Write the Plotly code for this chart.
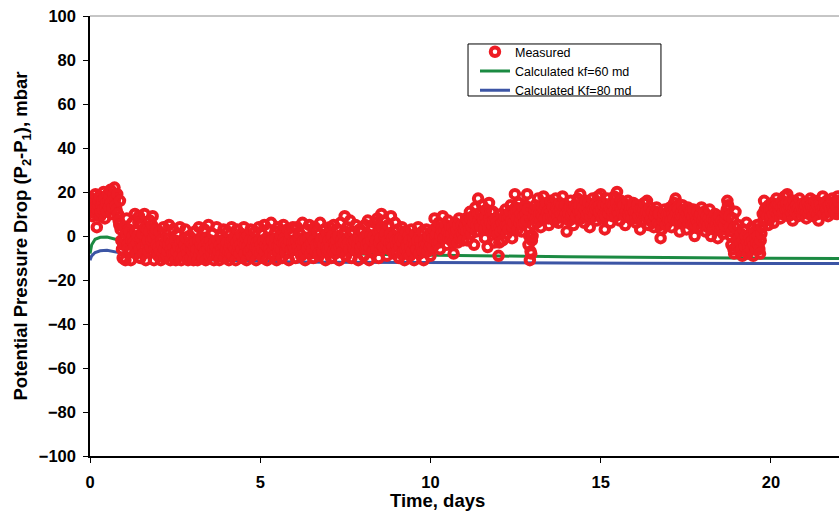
import plotly.graph_objects as go

# Measured potential pressure drop, mbar, one reading every SAMPLE_STEP days
SAMPLE_STEP = 0.02
measured = [
    # day 0
    12, 14, 17, 11, 9, 16, 15, 13, 19, 10, 4, 12, 14, 16, 18, 9, 11, 14, 16, 12, 20, 17, 8, 13, 15,
    11, 19, 16, 13, 18, 21, 15, 10, 13, 17, 19, 22, 17, 14, 12, 19, 10, 7, 5, 16, 3, -2, -6, -10, -4,
    # day 1
    4, -1, -11, 1, 8, -4, -6, 3, 2, -7, -11, -2, 6, 0, -3, -5, 10, 2, -8, -3, 0, 6, 9, -6, -10,
    -1, 5, 1, -5, -8, 10, 4, -11, -4, 3, -2, -7, 2, 7, -5, -2, 5, 9, -1, -11, -6, 1, 3, -4, -8,
    # day 2
    -9, -5, 2, -7, -11, -2, -4, -8, 4, -6, -10, -3, -1, -9, -7, -4, 5, -1, -11, -6, -3, -8, 3, -5, -8,
    -2, -11, -7, 1, -4, -5, -9, 4, -3, -11, -6, -2, -7, -9, -4, 3, -1, -6, -8, -11, -5, 0, -3, -10, -6,
    # day 3
    -4, -7, -11, -5, 2, -3, -8, -6, -11, -2, 4, -8, -6, -4, -1, -9, -10, -5, 3, -7, -11, -1, -3, -6, 5,
    -4, -9, -2, -5, -8, 1, -6, -11, -3, -7, -5, 4, -9, -2, -7, -11, -4, 0, -6, -8, -2, 3, -5, -10, -7,
    # day 4
    -6, -3, 2, -7, -11, -5, -3, -8, 4, -2, -9, -5, -1, -6, -11, -3, 3, -7, -5, -1, -8, -4, 1, -6, -10,
    -3, 4, -8, -4, -1, -11, -5, 0, -7, -7, -2, 3, -6, -9, -4, -2, -8, 2, -5, -11, -3, -5, -7, 4, -2,
    # day 5
    -8, -4, 1, -6, -10, -2, 5, -7, -4, -1, -11, -5, 3, -3, -6, -8, 6, -2, -2, -6, -9, -4, 2, -1, -11,
    -5, 4, -7, -5, -2, 0, -6, -10, -3, 5, -1, -3, -7, -8, -4, 3, -5, -11, -2, 1, -6, -6, -3, 4, -5,
    # day 6
    -3, -6, -10, -2, 4, -5, -6, -1, 1, -7, -9, -3, 6, -5, -2, -8, -11, -2, 3, -6, -5, -1, 5, -4, -8,
    -3, 0, -6, -10, -2, 4, -7, -4, -5, 2, -8, -9, -3, 6, -2, -1, -6, -7, -4, 3, -1, -11, -5, 1, -7,
    # day 7
    -6, -2, 4, -5, -10, -1, 0, -7, 5, -3, -8, -4, -2, -6, 3, 0, -11, -5, 6, -2, -4, -7, 1, -3, 9,
    2, -9, -4, 4, -1, -3, -6, 7, 1, -10, -3, 2, -5, -6, -2, 5, -7, -1, -4, -11, -1, 3, -6, -5, -2,
    # day 8
    2, -4, -9, -1, 5, -6, -4, 1, 7, -3, -11, -5, 0, -2, 4, -7, -7, 0, 6, -4, -2, -6, 8, 2, -10,
    -3, 3, -1, 10, 4, -5, -5, 7, 0, 1, -4, -9, -2, 5, -6, -3, 1, 9, -3, -1, -5, -8, 0, 6, -2,
    # day 9
    -4, -7, 3, -2, -10, -5, -1, -8, 4, -3, -7, -1, -11, -6, 2, -4, -5, -8, 0, -2, -9, -5, 3, -7, -3,
    -1, -11, -4, 1, -6, -6, -2, 4, -8, -8, -3, -2, -5, 2, -7, -11, -2, -4, -6, 3, -4, -7, -1, 0, -5,
    # day 10
    -9, -4, 2, -1, -5, 3, 8, -2, 0, 1, -3, 4, 6, -3, -6, 0, 3, 2, 9, -1, -1, 3, 5, 0, -4,
    2, 7, -1, 1, 4, -2, 1, 4, -3, -8, 2, 6, 0, 2, 3, -3, 5, 8, -1, 0, 2, 5, 1, -2, 3,
    # day 11
    3, 5, 8, 2, -2, 7, 6, 3, 11, 8, 1, 4, 9, 6, -4, 9, 13, 2, 5, 10, 17, 7, 10, 5, 4,
    11, 14, 8, 7, 3, -1, 9, 12, 6, -5, 4, 15, 8, 6, 11, 2, 5, 11, 7, -3, 2, 8, 6, 4, 1,
    # day 12
    -9, -3, 4, 2, 10, 6, -2, 3, 7, 9, 12, 5, 1, 8, 5, 3, 9, 11, 14, 7, -1, 4, 6, 10, 19,
    13, 11, 8, 3, 12, 15, 6, 8, 10, 2, 5, 13, 9, 6, 14, 10, 7, 19, 12, -4, 0, -11, -7, -8, -2,
    # day 13
    0, 5, 9, 12, 14, 8, 6, 11, 17, 13, 10, 7, 4, 10, 13, 9, 18, 12, 8, 14, 15, 10, 11, 8, 5,
    12, 16, 11, 9, 14, 13, 9, 7, 11, 17, 13, 12, 9, 6, 11, 15, 12, 10, 14, 18, 11, 8, 13, 14, 10,
    # day 14
    2, 8, 12, 10, 7, 13, 16, 9, 10, 12, 5, 11, 14, 8, 9, 13, 17, 12, 11, 14, 19, 11, 8, 15, 13,
    10, 6, 12, 16, 9, 10, 13, 15, 11, 4, 9, 12, 14, 17, 12, 9, 10, 14, 12, 7, 13, 18, 11, 11, 14,
    # day 15
    19, 12, 8, 15, 14, 10, 3, 9, 12, 14, 17, 11, 10, 13, 6, 12, 15, 9, 11, 14, 18, 12, 9, 15, 20,
    11, 13, 10, 7, 13, 16, 12, 10, 15, 14, 9, 5, 11, 12, 14, 16, 10, 9, 12, 13, 10, 8, 13, 15, 11,
    # day 16
    11, 8, 6, 11, 14, 9, 9, 12, 3, 7, 12, 10, 7, 12, 15, 9, 10, 11, 16, 8, 5, 10, 13, 7, 8,
    11, 11, 6, 4, 9, 9, 11, 13, 8, 6, 10, 10, 5, -1, 3, 3, 7, 8, 10, 12, 6, 5, 9, 10, 7,
    # day 17
    8, 10, 13, 7, 4, 11, 10, 8, 15, 12, 17, 10, 7, 13, 12, 9, 2, 7, 9, 11, 14, 9, 6, 12, 11,
    8, 3, 10, 13, 6, 8, 11, 10, 7, 5, 9, 12, 6, 0, 5, 9, 7, 11, 6, 4, 9, 8, 10, 13, 7,
    # day 18
    7, 9, 11, 5, 2, 7, 9, 4, 5, 8, 12, 6, 0, 5, 8, 3, 4, 7, 10, 5, 6, 8, -1, 4, 9,
    6, 3, 5, 7, 3, 1, 6, 5, 8, 10, 12, 16, 14, 13, 9, 4, 0, -4, 2, 8, -6, -8, 4, 11, -2,
    # day 19
    -2, -5, 5, -1, -7, -3, 1, -6, -9, -2, 3, -4, -5, 0, 6, -3, -8, -5, 0, -1, -3, -6, 4, -2, -9,
    -4, 2, -1, -6, -3, 5, 0, -4, -6, -8, -2, 1, 4, 10, 7, 16, 12, 7, 10, 13, 9, 5, 14, 12, 8,
    # day 20
    9, 12, 15, 10, 6, 13, 13, 11, 17, 14, 10, 12, 14, 11, 8, 13, 16, 10, 11, 14, 18, 13, 12, 15, 19,
    12, 9, 13, 15, 11, 13, 10, 7, 12, 16, 13, 11, 14, 14, 12, 9, 13, 17, 11, 12, 14, 10, 12, 15, 13,
    # day 21
    12, 14, 8, 11, 15, 13, 10, 12, 17, 14, 13, 11, 9, 13, 16, 12, 11, 15, 14, 10, 7, 12, 15, 14, 12,
    11, 18, 13, 10, 15, 13, 12, 16, 11, 9, 14, 14, 12, 11, 15, 17, 13, 12, 11, 15, 14, 10, 13, 18, 16,
]
measured_time = [round(i * SAMPLE_STEP, 3) for i in range(len(measured))]

# Model curves
calc_time = [0, 0.05, 0.15, 0.3, 0.5, 1, 2, 3, 4, 5, 6, 7, 8, 9, 10, 12, 14, 16, 18, 20, 22]
calc_kf60 = [-8, -4, -1.5, -0.6, -0.5, -2.5, -4.5, -5.6, -6.4, -7.0, -7.5, -7.9, -8.2,
             -8.5, -8.8, -9.1, -9.4, -9.7, -9.9, -10.1, -10.2]
calc_kf80 = [-11, -9, -7.5, -6.7, -6.5, -8.0, -9.5, -10.5, -11.1, -11.5, -11.8, -11.9,
             -12.0, -12.1, -12.2, -12.25, -12.3, -12.35, -12.4, -12.45, -12.5]

x_ticks = [0, 5, 10, 15, 20]
y_ticks = [-100, -80, -60, -40, -20, 0, 20, 40, 60, 80, 100]

RED = "#ee1c24"
GREEN = "#1b8a42"
BLUE = "#3c55a5"
FONT = "Arial, Liberation Sans, sans-serif"
TITLE_FONT = dict(family=FONT, size=18.5, color="black", weight="bold")

fig = go.Figure()
fig.add_trace(go.Scatter(
    x=calc_time, y=calc_kf60, mode="lines", name="Calculated kf=60 md",
    line=dict(color=GREEN, width=3), legendrank=2,
))
fig.add_trace(go.Scatter(
    x=calc_time, y=calc_kf80, mode="lines", name="Calculated Kf=80 md",
    line=dict(color=BLUE, width=3), legendrank=3,
))
fig.add_trace(go.Scatter(
    x=measured_time, y=measured, mode="markers", name="Measured",
    marker=dict(symbol="circle-open", size=8.5, color=RED, line=dict(color=RED, width=4)),
    legendrank=1,
))

axis_common = dict(
    showgrid=False, zeroline=False, showline=True, linecolor="black", linewidth=1.5,
    ticks="outside", ticklen=5, tickwidth=1, tickcolor="black",
    tickfont=dict(family=FONT, size=16.5, color="black", weight="bold"),
)

fig.update_layout(
    width=839, height=512,
    margin=dict(l=90, r=0, t=16, b=56),
    paper_bgcolor="white", plot_bgcolor="white",
    showlegend=True,
    legend=dict(
        x=0.514, y=0.952, xanchor="left", yanchor="top",
        borderwidth=0, bgcolor="rgba(0,0,0,0)",
        font=dict(family=FONT, size=12.5, color="black"),
        tracegroupgap=0, itemwidth=30,
    ),
    xaxis=dict(range=[0, 22], tickvals=x_ticks, ticklabelstandoff=5, **axis_common),
    yaxis=dict(
        range=[-100, 100], tickvals=y_ticks, ticklabelstandoff=4,
        title=dict(text="Potential Pressure Drop (P<sub>2</sub>-P<sub>1</sub>), mbar",
                   standoff=6, font=TITLE_FONT),
        **axis_common,
    ),
    annotations=[
        dict(text="Time, days", xref="paper", yref="paper", x=0.4646, y=-0.1,
             xanchor="center", yanchor="middle", showarrow=False, font=TITLE_FONT),
    ],
    shapes=[
        # top frame edge of the plot area
        dict(type="line", xref="paper", yref="paper", x0=0, x1=1, y0=1, y1=1,
             line=dict(color="#8c8c8c", width=1)),
        # legend box
        dict(type="rect", xref="paper", yref="paper", x0=0.5047, x1=0.7623,
             y0=0.8182, y1=0.9364, fillcolor="white", layer="above",
             line=dict(color="black", width=1)),
    ],
)

fig.write_html("out.html")
